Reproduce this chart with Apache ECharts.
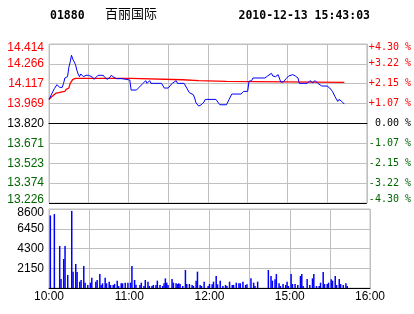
<!DOCTYPE html>
<html>
<head>
<meta charset="utf-8">
<script src="https://cdn.jsdelivr.net/npm/echarts@6/dist/echarts.min.js"></script>
<style>html,body{margin:0;padding:0;background:#fff;}#c{width:414px;height:314px;}</style>
</head>
<body>
<div id="c"></div>
<script>
// ---- data ----
var stockCode = '01880';
var stockName = '百丽国际';
var stamp = '2010-12-13 15:43:03';

var priceTimes = ['10:00','10:02','10:04','10:06','10:08','10:10','10:11','10:12','10:13','10:14','10:15','10:16','10:17','10:18','10:19','10:20','10:21','10:22','10:23','10:24','10:25','10:26','10:27','10:28','10:29','10:30','10:31','10:33','10:34','10:35','10:37','10:41','10:42','10:44','10:46','10:47','10:49','10:51','10:55','10:58','11:01','11:02','11:06','11:09','11:11','11:13','11:14','11:16','11:17','11:25','11:27','11:30','11:33','11:36','11:37','11:42','11:44','11:46','11:49','11:50','11:51','11:53','11:55','11:57','11:58','12:06','12:09','12:10','12:14','12:16','12:18','12:25','12:27','12:30','14:31','14:33','14:34','14:43','14:45','14:46','14:48','14:49','14:51','14:52','14:53','14:55','14:57','14:59','15:01','15:04','15:06','15:08','15:09','15:15','15:17','15:19','15:21','15:23','15:24','15:26','15:30','15:32','15:34','15:35','15:36','15:38','15:39','15:40','15:41','15:43'];
var prices = [14.00,14.04,14.08,14.11,14.09,14.09,14.12,14.16,14.15,14.17,14.24,14.28,14.33,14.30,14.28,14.26,14.22,14.19,14.17,14.19,14.20,14.17,14.16,14.18,14.17,14.18,14.17,14.165,14.15,14.16,14.18,14.18,14.165,14.15,14.165,14.18,14.165,14.155,14.155,14.15,14.145,14.07,14.07,14.10,14.12,14.14,14.12,14.14,14.12,14.12,14.085,14.085,14.12,14.14,14.12,14.12,14.085,14.05,14.035,14.01,13.975,13.95,13.96,13.98,14.00,14.00,13.96,13.95,13.96,14.00,14.04,14.04,14.06,14.06,14.135,14.14,14.16,14.16,14.175,14.185,14.195,14.175,14.17,14.16,14.185,14.13,14.13,14.155,14.175,14.185,14.175,14.16,14.12,14.12,14.14,14.125,14.14,14.12,14.12,14.10,14.10,14.085,14.06,14.05,14.02,13.985,14.00,14.00,13.985,13.965];

var avgTimes = ['10:00','10:02','10:05','10:09','10:12','10:13','10:15','10:16','10:18','10:20','11:02','11:03','11:41','11:42','11:53','11:54','12:14','12:15','15:43'];
var avgPrices = [14.00,14.02,14.045,14.055,14.06,14.075,14.085,14.12,14.15,14.157,14.157,14.147,14.147,14.141,14.141,14.134,14.134,14.128,14.128];

var volTimes = ['10:01','10:04','10:08','10:09','10:11','10:12','10:14','10:17','10:18','10:20','10:21','10:23','10:24','10:26','10:27','10:29','10:31','10:32','10:35','10:36','10:38','10:39','10:40','10:42','10:43','10:45','10:46','10:48','10:49','10:51','10:52','10:54','10:55','10:57','10:59','11:01','11:02','11:04','11:05','11:08','11:09','11:11','11:12','11:14','11:15','11:17','11:18','11:20','11:21','11:23','11:25','11:26','11:27','11:28','11:29','11:32','11:33','11:35','11:36','11:37','11:38','11:40','11:42','11:43','11:45','11:47','11:48','11:50','11:51','11:53','11:54','11:56','11:59','12:00','12:02','12:03','12:05','12:06','12:08','12:10','12:12','12:13','12:15','12:17','12:18','12:20','12:22','12:23','12:25','12:27','12:28','14:31','14:33','14:34','14:36','14:44','14:46','14:47','14:49','14:50','14:52','14:53','14:55','14:57','14:58','14:59','15:01','15:02','15:04','15:06','15:08','15:09','15:10','15:13','15:15','15:17','15:18','15:20','15:22','15:23','15:25','15:26','15:28','15:29','15:31','15:32','15:34','15:35','15:37','15:38','15:40','15:42','15:43'];
var volumes = [7900,8050,4570,980,3160,4570,1420,8390,1780,2610,1740,690,870,2400,580,330,580,1120,690,870,1520,330,510,1120,510,690,330,330,440,800,220,510,510,580,580,580,2400,870,350,330,580,220,870,690,220,220,330,330,800,330,220,510,1050,580,330,980,580,510,440,510,440,220,1960,440,440,330,220,800,1780,330,220,690,220,440,400,690,1310,400,800,220,330,220,690,330,330,580,510,510,690,330,400,1050,580,220,690,1960,1310,800,940,1520,510,220,440,330,690,220,1520,440,440,330,1310,1520,220,980,330,1050,1520,220,220,580,1740,440,440,580,940,800,1310,330,980,440,330,510,220];

var priceTicks = ['13.226','13.374','13.523','13.671','13.820','13.969','14.117','14.266','14.414'];
var pctTicks = ['-4.30 %','-3.22 %','-2.15 %','-1.07 %',' 0.00 %','+1.07 %','+2.15 %','+3.22 %','+4.30 %'];
var volTicks = ['','2150','4300','6450','8600'];
var timeTicks = ['10:00','','11:00','','12:00','','15:00','','16:00'];

// ---- helpers ----
function sessionMinute(t) {
  var p = t.split(':');
  var mins = (+p[0]) * 60 + (+p[1]);
  return mins <= 750 ? mins - 600 : mins - 870 + 150;
}
function pairs(times, vals) {
  return times.map(function (t, i) { return [sessionMinute(t), vals[i]]; });
}
var RED = '#ff0000', GREEN = '#006600', GRAY = '#c0c0c0';
function edgeRich(idx, n, s) {
  if (idx === n - 1) return '{t|' + s + '}';
  if (idx === 0) return '{b|' + s + '}';
  return s;
}
var rich = { t: { padding: [7, 0, 0, 0] }, b: { padding: [0, 0, 7, 0] } };
function pIdx(v) { return Math.round((+v - 13.226) / 0.1485); }
function rIdx(v) { return Math.round((+v + 4.3) / 1.075); }
function tone(k) { return k > 4 ? RED : (k === 4 ? '#000' : GREEN); }

var chart = echarts.init(document.getElementById('c'), null, { renderer: 'canvas' });
chart.setOption({
  animation: false,
  backgroundColor: '#fff',
  title: [
    { text: stockCode, left: 50, top: 10, padding: 0, textStyle: { fontFamily: 'DejaVu Sans Mono', fontWeight: 'bold', fontSize: 11.5, color: '#000' } },
    { text: stockName, left: 105, top: 7, padding: 0, textStyle: { fontFamily: 'Noto Sans CJK SC', fontWeight: 'normal', fontSize: 13, color: '#000' } },
    { text: stamp, right: 44, top: 10, padding: 0, textStyle: { fontFamily: 'DejaVu Sans Mono', fontWeight: 'bold', fontSize: 11.5, color: '#000' } }
  ],
  grid: [
    { left: 49, top: 44, width: 321, height: 159, show: true, borderColor: GRAY, borderWidth: 1 },
    { left: 49, top: 209, width: 321, height: 79, show: true, borderColor: GRAY, borderWidth: 1 }
  ],
  xAxis: [
    { gridIndex: 0, type: 'value', min: 0, max: 240, interval: 30,
      axisLine: { show: true, lineStyle: { color: '#000', width: 1 } }, axisTick: { show: false },
      axisLabel: { show: false }, splitLine: { show: true, lineStyle: { color: GRAY, width: 1 } } },
    { gridIndex: 1, type: 'value', min: 0, max: 240, interval: 30,
      axisLine: { show: true, lineStyle: { color: '#000', width: 1 } }, axisTick: { show: false },
      axisLabel: { show: true, margin: 3, color: '#000', fontFamily: 'Liberation Sans', fontSize: 12,
        formatter: function (v) { return timeTicks[Math.round(+v / 30)] || ''; } },
      splitLine: { show: true, lineStyle: { color: GRAY, width: 1 } } }
  ],
  yAxis: [
    { gridIndex: 0, type: 'value', min: 13.226, max: 14.414, interval: 0.1485,
      axisLine: { show: false }, axisTick: { show: false },
      splitLine: { show: true, lineStyle: { color: ['#000', GRAY, GRAY, GRAY, '#000', GRAY, GRAY, GRAY, GRAY], width: 1 } },
      axisLabel: { margin: 5, fontFamily: 'Liberation Sans', fontSize: 12, rich: rich,
        color: function (v) { return tone(pIdx(v)); },
        formatter: function (v) { var k = pIdx(v); return edgeRich(k, priceTicks.length, priceTicks[k]); } } },
    { gridIndex: 0, type: 'value', position: 'right', min: -4.3, max: 4.3, interval: 1.075,
      axisLine: { show: false }, axisTick: { show: false }, splitLine: { show: false },
      axisLabel: { margin: 2, fontFamily: 'DejaVu Sans Mono', fontSize: 10, rich: rich,
        color: function (v) { return tone(rIdx(v)); },
        formatter: function (v) { var k = rIdx(v); return edgeRich(k, pctTicks.length, pctTicks[k]); } } },
    { gridIndex: 1, type: 'value', min: 0, max: 8600, interval: 2150,
      axisLine: { show: false }, axisTick: { show: false },
      splitLine: { show: true, lineStyle: { color: GRAY, width: 1 } },
      axisLabel: { margin: 5, color: '#000', fontFamily: 'Liberation Sans', fontSize: 12, rich: rich,
        formatter: function (v) { var k = Math.round(+v / 2150); return k === 4 ? '{t|' + volTicks[k] + '}' : volTicks[k]; } } }
  ],
  series: [
    { type: 'line', xAxisIndex: 0, yAxisIndex: 0, data: pairs(avgTimes, avgPrices), showSymbol: false,
      lineStyle: { color: RED, width: 1.3 }, itemStyle: { color: RED }, z: 3 },
    { type: 'line', xAxisIndex: 0, yAxisIndex: 0, data: pairs(priceTimes, prices), showSymbol: false,
      lineStyle: { color: '#0000ff', width: 1 }, itemStyle: { color: '#0000ff' }, z: 4 },
    { type: 'bar', xAxisIndex: 1, yAxisIndex: 2, data: pairs(volTimes, volumes), barWidth: 1.5,
      itemStyle: { color: '#0000ff' } }
  ]
});
</script>
</body>
</html>
